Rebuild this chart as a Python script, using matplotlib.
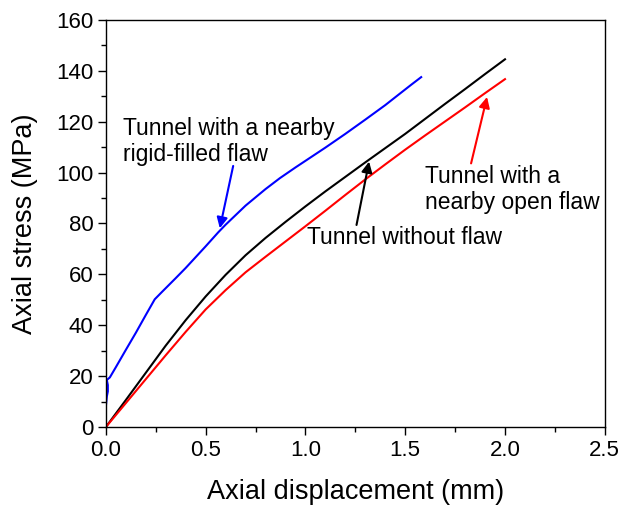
import matplotlib
matplotlib.use("Agg")
import matplotlib.pyplot as plt
from matplotlib.ticker import MultipleLocator

plt.rcParams['font.family'] = ['Liberation Sans', 'DejaVu Sans']

# Tunnel without flaw (black)
x_black = [0.0, 0.05, 0.1, 0.2, 0.3, 0.4, 0.5, 0.6, 0.7, 0.8, 0.9, 1.0, 1.1, 1.2, 1.3,
           1.4, 1.5, 1.6, 1.7, 1.8, 1.9, 2.0]
y_black = [0.0, 5.3, 10.6, 21.3, 32.0, 42.0, 51.3, 59.8, 67.5, 74.3, 80.6, 86.7, 92.6, 98.3, 104.0,
           109.6, 115.2, 121.1, 127.0, 132.8, 138.7, 144.5]

# Tunnel with a nearby open flaw (red)
x_red = [0.0, 0.1, 0.2, 0.3, 0.4, 0.5, 0.6, 0.7, 0.8, 0.9, 1.0, 1.1, 1.2, 1.3, 1.4,
         1.5, 1.6, 1.7, 1.8, 1.9, 2.0]
y_red = [0.0, 9.4, 18.8, 28.2, 37.4, 46.2, 53.8, 60.8, 66.9, 72.9, 78.9, 85.0, 91.2, 97.3, 103.2,
         109.0, 114.6, 120.1, 125.6, 131.2, 136.7]

# Tunnel with a nearby rigid-filled flaw (blue)
x_blue = [0.0, 0.0, 0.005, 0.01, 0.01, 0.005, 0.02, 0.05, 0.1, 0.15, 0.2, 0.245, 0.28, 0.35, 0.4,
          0.5, 0.563, 0.6, 0.7, 0.8, 0.872, 0.95, 1.0, 1.1, 1.2, 1.3, 1.4, 1.473, 1.53, 1.58]
y_blue = [0.0, 8.0, 12.0, 14.0, 16.5, 18.5, 19.5, 23.5, 30.3, 37.0, 44.0, 50.2, 53.0, 58.5, 62.5,
          71.0, 76.5, 79.5, 87.0, 93.5, 97.8, 102.0, 104.6, 109.8, 115.2, 120.8, 126.5, 131.0, 134.5, 137.5]

fig = plt.figure(figsize=(6.30, 5.09), dpi=100)
ax = fig.add_axes([0.168, 0.161, 0.792, 0.800])

ax.plot(x_black, y_black, color='black', lw=1.5)
ax.plot(x_red, y_red, color='#ff0000', lw=1.5)
ax.plot(x_blue, y_blue, color='#0000ff', lw=1.5)

ax.set_xlim(0, 2.5)
ax.set_ylim(0, 160)
ax.xaxis.set_major_locator(MultipleLocator(0.5))
ax.xaxis.set_minor_locator(MultipleLocator(0.25))
ax.yaxis.set_major_locator(MultipleLocator(20))
ax.yaxis.set_minor_locator(MultipleLocator(10))
ax.xaxis.set_major_formatter(plt.FuncFormatter(lambda v, p: f"{v:.1f}"))
ax.tick_params(which='both', direction='out', top=False, right=False, labelsize=16, width=1.0)
ax.tick_params(which='major', length=6, pad=3)
ax.tick_params(which='minor', length=3.5)
for s in ax.spines.values():
    s.set_linewidth(1.0)

ax.set_xlabel('Axial displacement (mm)', fontsize=19.5, labelpad=13)
ax.set_ylabel('Axial stress (MPa)', fontsize=19.5, labelpad=13)

fs = 16.5
ax.text(0.085, 112.3, 'Tunnel with a nearby\nrigid-filled flaw', fontsize=fs, ha='left', va='center',
        linespacing=1.15)
ax.annotate('', xy=(0.571, 78.1), xytext=(0.638, 102.6),
            arrowprops=dict(arrowstyle='-|>', color='#0000ff', lw=1.5, mutation_scale=16, shrinkA=0, shrinkB=0))

ax.text(1.01, 74.3, 'Tunnel without flaw', fontsize=fs, ha='left', va='center')
ax.annotate('', xy=(1.319, 104.3), xytext=(1.256, 79.4),
            arrowprops=dict(arrowstyle='-|>', color='black', lw=1.5, mutation_scale=16, shrinkA=0, shrinkB=0))

ax.text(1.60, 93.4, 'Tunnel with a\nnearby open flaw', fontsize=fs, ha='left', va='center', linespacing=1.15)
ax.annotate('', xy=(1.91, 129.7), xytext=(1.83, 103.6),
            arrowprops=dict(arrowstyle='-|>', color='#ff0000', lw=1.5, mutation_scale=16, shrinkA=0, shrinkB=0))

fig.savefig('out.png', dpi=100)
